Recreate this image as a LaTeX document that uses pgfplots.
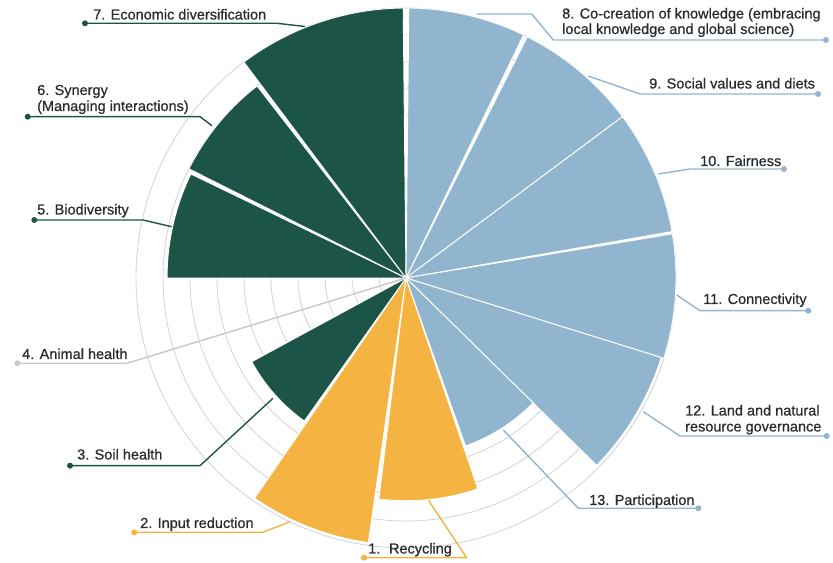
\documentclass[border=0pt]{standalone}
\usepackage{fontspec}
\setmainfont{Liberation Sans}
\newfontfamily\lblfont{Liberation Sans}[FakeBold=0.7]
\usepackage{pgfplots}
\pgfplotsset{compat=1.18}

\definecolor{agrgreen}{HTML}{1C5448}
\definecolor{agrorange}{HTML}{F5B441}
\definecolor{agrblue}{HTML}{92B5CF}
\definecolor{gridgray}{HTML}{D6D6D6}
\definecolor{txt}{HTML}{2B2B2B}
\definecolor{animalgray}{HTML}{C8C8C8}

\tikzset{
  lbl/.style={anchor=base west, inner sep=0pt, text=txt, font=\lblfont\fontsize{14.5bp}{17bp}\selectfont},
  lead/.style={line width=1.4bp, line join=round},
}

\begin{document}
\begin{tikzpicture}
% grid rings, 27bp per unit, centre of the rose at pixel (406,278)
\begin{scope}[x=1bp, y=-1bp, yshift=563bp]
  \foreach \k in {1,...,10}
    \draw[gridgray, line width=0.9bp] (406,278) circle[radius=\k*27bp];
\end{scope}

\begin{axis}[
    x=27bp, y=27bp,
    xmin=-15.037, xmax=15.815,
    ymin=-10.556, ymax=10.296,
    enlargelimits=false,
    hide axis, clip=false,
    data cs=polar,
    samples=40,
]
% (angle from, angle to, score 0-10)
% 1. Recycling
\addplot[fill=agrorange, draw=white, line width=0.9bp, domain=-97:-71.2] (\x, 8.25) -- (axis cs:0,0) -- cycle;
% 2. Input reduction
\addplot[fill=agrorange, draw=white, line width=0.9bp, domain=-124.5:-98.1] (\x, 9.9) -- (axis cs:0,0) -- cycle;
% 3. Soil health
\addplot[fill=agrgreen, draw=white, line width=0.9bp, domain=-151.5:-125.4] (\x, 6.5) -- (axis cs:0,0) -- cycle;
% 4. Animal health = 0 (no wedge)
% 5. Biodiversity
\addplot[fill=agrgreen, draw=white, line width=0.9bp, domain=154.2:180] (\x, 8.85) -- (axis cs:0,0) -- cycle;
% 6. Synergy
\addplot[fill=agrgreen, draw=white, line width=0.9bp, domain=127.8:153.3] (\x, 9.0) -- (axis cs:0,0) -- cycle;
% 7. Economic diversification
\addplot[fill=agrgreen, draw=white, line width=0.9bp, domain=90.6:126.9] (\x, 10) -- (axis cs:0,0) -- cycle;
% 8. Co-creation of knowledge
\addplot[fill=agrblue, draw=white, line width=0.9bp, domain=64.2:89.4] (\x, 10) -- (axis cs:0,0) -- cycle;
% 9. Social values and diets
\addplot[fill=agrblue, draw=white, line width=0.9bp, domain=36.7:63.3] (\x, 10) -- (axis cs:0,0) -- cycle;
% 10. Fairness
\addplot[fill=agrblue, draw=white, line width=0.9bp, domain=9.9:36.7] (\x, 10) -- (axis cs:0,0) -- cycle;
% 11. Connectivity
\addplot[fill=agrblue, draw=white, line width=0.9bp, domain=-17.3:9.4] (\x, 10) -- (axis cs:0,0) -- cycle;
% 12. Land and natural resource governance
\addplot[fill=agrblue, draw=white, line width=0.9bp, domain=-44.5:-17.3] (\x, 9.9) -- (axis cs:0,0) -- cycle;
% 13. Participation
\addplot[fill=agrblue, draw=white, line width=0.9bp, domain=-70.5:-44.5] (\x, 6.6) -- (axis cs:0,0) -- cycle;
\end{axis}

% leader lines and labels, in pixel coordinates
\begin{scope}[x=1bp, y=-1bp, yshift=563bp]
  % left side
  \draw[lead, agrgreen] (85,23.3) -- (277,23.3) -- (305,26.5);
  \fill[agrgreen] (85,23.3) circle[radius=3bp];
  \node[lbl] at (93,19.5) {7. Economic diversification};

  \draw[lead, agrgreen] (27.7,116.7) -- (200,116.7) -- (212,125.7);
  \fill[agrgreen] (27.7,116.7) circle[radius=3bp];
  \node[lbl] at (37,95) {6. Synergy};
  \node[lbl] at (37,111) {(Managing interactions)};

  \draw[lead, agrgreen] (34.3,220) -- (143,220) -- (171.7,226.7);
  \fill[agrgreen] (34.3,220) circle[radius=3bp];
  \node[lbl] at (37,214.5) {5. Biodiversity};

  \draw[lead, animalgray] (17.3,363.3) -- (127,363.3) -- (406,278);
  \fill[animalgray] (17.3,363.3) circle[radius=3bp];
  \node[lbl] at (22,359) {4. Animal health};

  \draw[lead, agrgreen] (70,465.7) -- (200,465.7) -- (273,398.3);
  \fill[agrgreen] (70,465.7) circle[radius=3bp];
  \node[lbl] at (77,459.5) {3. Soil health};

  \draw[lead, agrorange] (134.3,532.3) -- (263,532.3) -- (290,521.7);
  \fill[agrorange] (134.3,532.3) circle[radius=3bp];
  \node[lbl] at (140,528) {2. Input reduction};

  \draw[lead, agrorange] (364,557.7) -- (466.7,557.7) -- (428.3,500);
  \fill[agrorange] (364,557.7) circle[radius=3bp];
  \node[lbl] at (368,553.5) {1.\hspace{0.6em}Recycling};

  % right side
  \draw[lead, agrblue] (476.7,14) -- (531.7,14) -- (553.3,40) -- (826,40);
  \fill[agrblue] (826,40) circle[radius=3bp];
  \node[lbl] at (562,18.5) {8. Co-creation of knowledge (embracing};
  \node[lbl] at (562,34) {local knowledge and global science)};

  \draw[lead, agrblue] (588.3,76) -- (640,94) -- (818,94);
  \fill[agrblue] (818,94) circle[radius=3bp];
  \node[lbl] at (649,88.5) {9. Social values and diets};

  \draw[lead, agrblue] (658.3,174) -- (690,169) -- (784,169);
  \fill[agrblue] (784,169) circle[radius=3bp];
  \node[lbl] at (700,166) {10. Fairness};

  \draw[lead, agrblue] (676.7,295) -- (700,310.7) -- (808.3,310.7);
  \fill[agrblue] (808.3,310.7) circle[radius=3bp];
  \node[lbl] at (703,304) {11. Connectivity};

  \draw[lead, agrblue] (643.3,411.7) -- (680,436) -- (826.7,436);
  \fill[agrblue] (826.7,436) circle[radius=3bp];
  \node[lbl] at (685,415.5) {12. Land and natural};
  \node[lbl] at (685,431.5) {resource governance};

  \draw[lead, agrblue] (503.3,430) -- (578.3,508.3) -- (698.3,508.3);
  \fill[agrblue] (698.3,508.3) circle[radius=3bp];
  \node[lbl] at (589,505) {13. Participation};
\end{scope}

\pgfresetboundingbox
\path[use as bounding box] (0,0) rectangle (833bp,563bp);
\end{tikzpicture}
\end{document}
